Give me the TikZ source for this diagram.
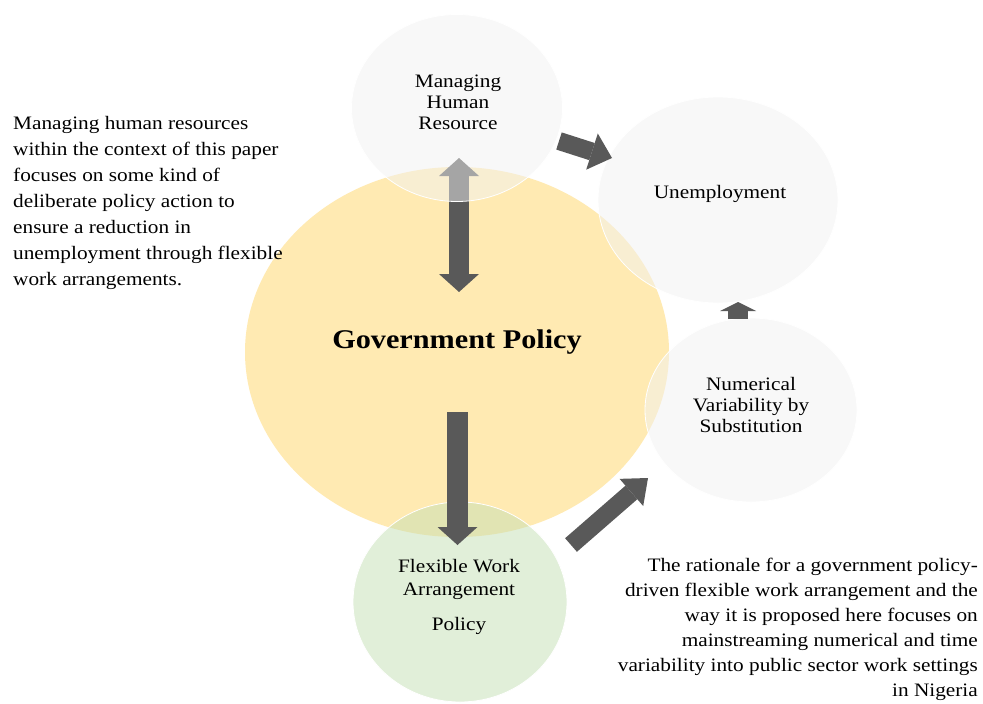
\documentclass[tikz,border=0pt]{standalone}
\usepackage{fontspec}
\setmainfont{Liberation Serif}[FakeStretch=1.12]
\usetikzlibrary{shapes.geometric,arrows.meta}
\definecolor{gpyellow}{HTML}{FFEAB2}
\definecolor{circgray}{HTML}{F2F2F2}
\definecolor{flexgreen}{HTML}{C5E0B4}
\definecolor{arrowgray}{HTML}{595959}
\begin{document}
\begin{tikzpicture}[x=1pt,y=-1pt,
  bubble/.style={ellipse, inner sep=0pt, draw=white, line width=0.8pt, fill=circgray, fill opacity=0.5},
  lab/.style={align=center, font=\fontsize{19}{21}\selectfont, text=black, inner sep=0pt},
  para/.style={font=\fontsize{19}{26}\selectfont, inner sep=0pt, text=black},
  blk/.style n args={3}{draw=arrowgray, line width=#1, -{Triangle[width=#2,length=#3,line width=0pt]}},
  dblk/.style n args={3}{draw=arrowgray, line width=#1, {Triangle[width=#2,length=#3,line width=0pt]}-{Triangle[width=#2,length=#3,line width=0pt]}}]
\useasboundingbox (0,0) rectangle (983,704);
\fill[white] (0,0) rectangle (983,704);

% main circle
\node[ellipse, inner sep=0pt, fill=gpyellow, minimum width=424pt, minimum height=370pt] (gov) at (457,352) {};
% side circles
\node[bubble, minimum width=240pt, minimum height=206pt] (unemp) at (718,200) {};
\node[bubble, minimum width=212pt, minimum height=184pt] (num) at (751,410) {};
\node[bubble, fill=flexgreen, minimum width=214pt, minimum height=200pt] (flex) at (460,602) {};

% arrow endpoints
\coordinate (da1) at (459,158);
\coordinate (da2) at (459,292);
\coordinate (dn1) at (457.5,412);
\coordinate (dn2) at (457.5,545);
\coordinate (mu1) at (559,141);
\coordinate (mu2) at (612,158);
\coordinate (fn1) at (571,545);
\coordinate (fn2) at (648,478);
\coordinate (nu1) at (738,319);
\coordinate (nu2) at (738,302);

% double arrow between policy and HR
\draw[dblk={20pt}{40pt}{18pt}] (da1) -- (da2);

% top circle (over the double arrow)
\node[bubble, minimum width=211pt, minimum height=187pt] (mhr) at (457,108) {};

% other arrows
\draw[blk={21pt}{40pt}{18pt}] (dn1) -- (dn2);
\draw[blk={18pt}{38pt}{21pt}] (mu1) -- (mu2);
\draw[blk={18pt}{36pt}{22pt}] (fn1) -- (fn2);
\draw[blk={20pt}{36pt}{9pt}] (nu1) -- (nu2);

% labels
\node[lab] (mhrtext) at (458,102) {Managing\\Human\\Resource};
\node[lab, anchor=base] (unemptext) at (720,198) {Unemployment};
\node[lab] (numtext) at (751,405) {Numerical\\Variability by\\Substitution};
\node[lab, font=\fontsize{19}{23}\selectfont] (flextext) at (459,597) {Flexible Work\\Arrangement\\[12pt]Policy};
\node[anchor=base, inner sep=0pt, font=\fontsize{27}{30}\selectfont\bfseries] (govtext) at (457,348) {Government Policy};

\node[para, anchor=north west, align=left] (lefttext) at (13,116) {Managing human resources\\within the context of this paper\\focuses on some kind of\\deliberate policy action to\\ensure a reduction in\\unemployment through flexible\\work arrangements.};
\node[para, anchor=north east, align=right, font=\fontsize{19}{25}\selectfont] (righttext) at (978,558) {The rationale for a government policy-\\driven flexible work arrangement and the\\way it is proposed here focuses on\\mainstreaming numerical and time\\variability into public sector work settings\\in Nigeria};
\end{tikzpicture}
\end{document}
